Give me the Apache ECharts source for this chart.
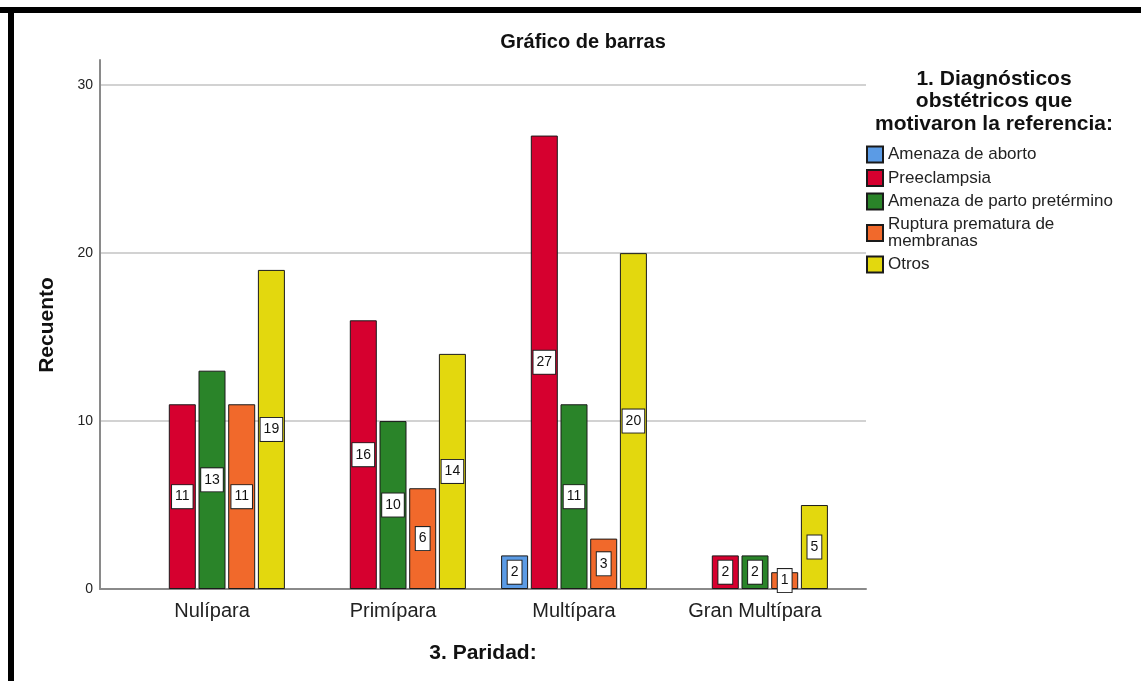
<!DOCTYPE html>
<html>
<head>
<meta charset="utf-8">
<title>Gráfico de barras</title>
<script src="https://cdn.jsdelivr.net/npm/echarts@6/dist/echarts.min.js"></script>
<style>
  html, body { margin: 0; padding: 0; background: #fff; }
  #main { width: 1141px; height: 681px; }
</style>
</head>
<body>
<div id="main"></div>
<script>
var categorias = ["Nulípara", "Primípara", "Multípara", "Gran Multípara"];
var amenazaAborto = [0, 0, 2, 0];
var preeclampsia = [11, 16, 27, 2];
var amenazaParto = [13, 10, 11, 2];
var ruptura = [11, 6, 3, 1];
var otros = [19, 14, 20, 5];
var nombres = [
  "Amenaza de aborto",
  "Preeclampsia",
  "Amenaza de parto pretérmino",
  "Ruptura prematura de\nmembranas",
  "Otros"
];
var colores = ["#5b9be5", "#d6002f", "#2a8429", "#f1692b", "#e3d80e"];
var yTicks = [0, 10, 20, 30];

var font = "'Liberation Sans', Arial, sans-serif";
var myChart = echarts.init(document.getElementById("main"));

// los ceros no se dibujan en el original
function sinCeros(arr) {
  return arr.map(function(v) {
    return v === 0 ? null : v;
  });
}

var datos = [amenazaAborto, preeclampsia, amenazaParto, ruptura, otros];
var series = [];
for (var i = 0; i < datos.length; i++) {
  series.push({
    name: nombres[i],
    type: "bar",
    xAxisIndex: 1,
    yAxisIndex: 1,
    barWidth: 27,
    barGap: "10%",
    data: sinCeros(datos[i]),
    itemStyle: {
      color: colores[i],
      borderColor: "#1a1a1a",
      borderWidth: 1
    },
    label: {
      show: true,
      position: "inside",
      color: "#111",
      fontFamily: font,
      fontSize: 14,
      backgroundColor: "#fff",
      borderColor: "#222",
      borderWidth: 1,
      padding: [5, 3, 4, 3],
      textBorderWidth: 0,
      formatter: function(p) {
        return p.value ? p.value : "";
      }
    },
    emphasis: { disabled: true }
  });
}

var option = {
  animation: false,
  backgroundColor: "#fff",
  textStyle: { fontFamily: font },
  grid: [
    { left: 100, top: 60, width: 766, height: 529 },
    { left: 121.5, top: 60, width: 724, height: 529 }
  ],
  xAxis: [
    {
      gridIndex: 0,
      type: "value",
      min: 0,
      max: 1,
      axisLine: { show: true, lineStyle: { color: "#8a8a8a", width: 2 } },
      axisTick: { show: false },
      axisLabel: { show: false },
      splitLine: { show: false }
    },
    {
      gridIndex: 1,
      type: "category",
      data: categorias,
      axisLine: { show: false },
      axisTick: { show: false },
      axisLabel: {
        margin: 12,
        fontSize: 20,
        color: "#222",
        fontFamily: font
      }
    }
  ],
  yAxis: [
    {
      gridIndex: 0,
      type: "value",
      min: yTicks[0],
      max: 31.5,
      interval: yTicks[1] - yTicks[0],
      axisLine: { show: true, lineStyle: { color: "#8a8a8a", width: 2 } },
      axisTick: { show: false },
      axisLabel: {
        margin: 7,
        fontSize: 14,
        color: "#222",
        fontFamily: font,
        showMaxLabel: false
      },
      splitLine: {
        show: true,
        showMaxLine: false,
        lineStyle: { color: "#d2d2d2", width: 2 }
      }
    },
    {
      gridIndex: 1,
      type: "value",
      min: 0,
      max: 31.5,
      show: false
    }
  ],
  legend: {
    orient: "vertical",
    left: 866,
    top: 145.5,
    padding: 0,
    itemGap: 5.5,
    itemWidth: 16,
    itemHeight: 16,
    icon: "rect",
    selectedMode: false,
    data: nombres,
    textStyle: {
      fontSize: 17,
      lineHeight: 17,
      color: "#222",
      fontFamily: font
    }
  },
  graphic: [
    // marco negro
    { type: "rect", shape: { x: 0, y: 7, width: 1141, height: 6 }, style: { fill: "#000" } },
    { type: "rect", shape: { x: 8, y: 7, width: 6, height: 674 }, style: { fill: "#000" } },
    {
      type: "text",
      x: 583,
      y: 42,
      style: {
        text: "Gráfico de barras",
        fontFamily: font,
        fontWeight: "bold",
        fontSize: 20,
        fill: "#111",
        textAlign: "center",
        textVerticalAlign: "middle"
      }
    },
    {
      type: "text",
      x: 994,
      y: 101.5,
      style: {
        text: "1. Diagnósticos\nobstétricos que\nmotivaron la referencia:",
        fontFamily: font,
        fontWeight: "bold",
        fontSize: 21,
        lineHeight: 22.5,
        fill: "#111",
        textAlign: "center",
        textVerticalAlign: "middle"
      }
    },
    {
      type: "text",
      x: 47,
      y: 325,
      rotation: Math.PI / 2,
      style: {
        text: "Recuento",
        fontFamily: font,
        fontWeight: "bold",
        fontSize: 21,
        fill: "#111",
        textAlign: "center",
        textVerticalAlign: "middle"
      }
    },
    {
      type: "text",
      x: 483,
      y: 653,
      style: {
        text: "3. Paridad:",
        fontFamily: font,
        fontWeight: "bold",
        fontSize: 21,
        fill: "#111",
        textAlign: "center",
        textVerticalAlign: "middle"
      }
    }
  ],
  series: series
};
myChart.setOption(option);
</script>
</body>
</html>
